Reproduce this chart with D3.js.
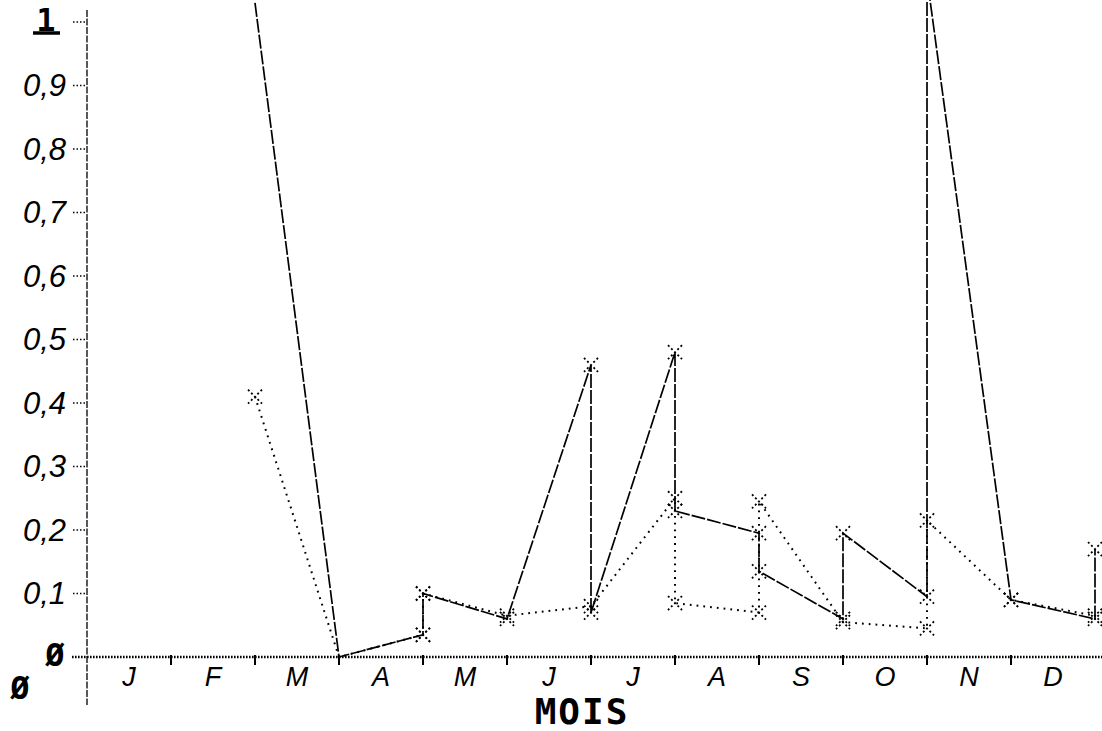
<!DOCTYPE html>
<meta charset="utf-8">
<style>
body { margin: 0; background: #fff; }
svg { display: block; }
</style>
<svg width="1102" height="731"></svg>
<script src="https://d3js.org/d3.v7.min.js"></script>
<script>
var svg = d3.select("svg"),
    width = +svg.attr("width"),
    height = +svg.attr("height");

// month letters, placed between the boundary ticks
var months = ["J", "F", "M", "A", "M", "J", "J", "A", "S", "O", "N", "D"];
var yTicks = [0.1, 0.2, 0.3, 0.4, 0.5, 0.6, 0.7, 0.8, 0.9];
var yTickLabels = ["0,1", "0,2", "0,3", "0,4", "0,5", "0,6", "0,7", "0,8", "0,9"];

// first series (the one with the long strokes), x = month boundary
var seriesAX = [2, 3, 4, 4, 5, 6, 6, 7, 7, 8, 8, 9, 9, 10, 10, 11, 12, 12];
var seriesAY = [1.03, 0, 0.035, 0.1, 0.06, 0.46, 0.07, 0.48, 0.23, 0.195, 0.135, 0.06, 0.195, 0.095, 1.07, 0.09, 0.06, 0.17];

// second series (dotted)
var seriesBX = [2, 3, 4, 4, 5, 6, 7, 7, 8, 8, 9, 10, 10, 11, 12];
var seriesBY = [0.41, 0, 0.035, 0.1, 0.065, 0.08, 0.25, 0.085, 0.07, 0.245, 0.055, 0.045, 0.215, 0.09, 0.065];

var x = d3.scaleLinear().domain([0, 12]).range([87, 1095]);
var y = d3.scaleLinear().domain([0, 1]).range([657, 22]);

svg.append("rect").attr("width", width).attr("height", height).attr("fill", "#fff");

//axes
svg.append("line")
    .attr("x1", x(0)).attr("x2", x(0))
    .attr("y1", 10).attr("y2", 705)
    .attr("stroke", "#000").attr("stroke-width", 1.3)
    .attr("stroke-dasharray", "7,1.5");

svg.append("line")
    .attr("x1", 72).attr("x2", 1102)
    .attr("y1", y(0)).attr("y2", y(0))
    .attr("stroke", "#000").attr("stroke-width", 2.6)
    .attr("stroke-dasharray", "1.6,1.4");

// y ticks: little dotted stubs left of the axis
svg.append("g").selectAll("line")
    .data(yTicks.concat([1]))
    .enter().append("line")
    .attr("x1", 73).attr("x2", x(0))
    .attr("y1", function(d) { return y(d); })
    .attr("y2", function(d) { return y(d); })
    .attr("stroke", "#000").attr("stroke-width", 1.6)
    .attr("stroke-dasharray", "1.5,2");

svg.append("g").selectAll("text")
    .data(yTicks)
    .enter().append("text")
    .attr("x", 66)
    .attr("y", function(d) { return y(d); })
    .attr("dy", "0.35em")
    .attr("text-anchor", "end")
    .style("font-family", "Liberation Sans")
    .style("font-style", "italic")
    .style("font-size", "31px")
    .text(function(d, i) { return yTickLabels[i]; });

// the "1" at the top
svg.append("text")
    .attr("x", 46).attr("y", y(1) - 2).attr("dy", "0.35em")
    .attr("text-anchor", "middle")
    .style("font-family", "DejaVu Sans Mono")
    .style("font-weight", "bold")
    .style("font-size", "32px")
    .text("1");
svg.append("line")
    .attr("x1", 33).attr("x2", 60)
    .attr("y1", y(1) + 11).attr("y2", y(1) + 11)
    .attr("stroke", "#000").attr("stroke-width", 3.5);

// the two zero glyphs
svg.append("text")
    .attr("x", 55).attr("y", y(0) - 2).attr("dy", "0.35em")
    .attr("text-anchor", "middle")
    .style("font-family", "DejaVu Sans Mono").style("font-weight", "bold")
    .style("font-size", "32px")
    .text("Ø");
svg.append("text")
    .attr("x", 20).attr("y", 688).attr("dy", "0.35em")
    .attr("text-anchor", "middle")
    .style("font-family", "DejaVu Sans Mono").style("font-weight", "bold")
    .style("font-size", "32px")
    .text("Ø");

// x ticks at month boundaries
svg.append("g").selectAll("line")
    .data(d3.range(1, 12))
    .enter().append("line")
    .attr("x1", function(d) { return x(d); })
    .attr("x2", function(d) { return x(d); })
    .attr("y1", y(0) - 2).attr("y2", y(0) + 8)
    .attr("stroke", "#000").attr("stroke-width", 2);

svg.append("g").selectAll("text")
    .data(months)
    .enter().append("text")
    .attr("x", function(d, i) { return x(i + 0.5); })
    .attr("y", 677)
    .attr("dy", "0.35em")
    .attr("text-anchor", "middle")
    .style("font-family", "Liberation Sans")
    .style("font-style", "italic")
    .style("font-size", "27px")
    .text(function(d) { return d; });

svg.append("text")
    .attr("x", 582).attr("y", 711).attr("dy", "0.35em")
    .attr("text-anchor", "middle")
    .style("font-family", "DejaVu Sans Mono")
    .style("font-weight", "bold")
    .style("font-size", "36px")
    .style("letter-spacing", "2px")
    .text("MOIS");

//series
var line = d3.line()
    .x(function(d) { return x(d[0]); })
    .y(function(d) { return y(d[1]); });

var ptsA = d3.zip(seriesAX, seriesAY);
var ptsB = d3.zip(seriesBX, seriesBY);

svg.append("path")
    .datum(ptsB)
    .attr("d", line)
    .attr("fill", "none")
    .attr("stroke", "#000").attr("stroke-width", 2)
    .attr("stroke-dasharray", "1.8,5");

svg.append("path")
    .datum(ptsA)
    .attr("d", line)
    .attr("fill", "none")
    .attr("stroke", "#000").attr("stroke-width", 1.7)
    .attr("stroke-dasharray", "14,2");

// dotted X markers on every visible point
var marks = ptsA.concat(ptsB).filter(function(d) { return d[1] > 0 && d[1] <= 1; });
var m = 7;
var mg = svg.append("g").selectAll("g")
    .data(marks)
    .enter().append("g")
    .attr("transform", function(d) { return "translate(" + x(d[0]) + "," + y(d[1]) + ")"; });
mg.append("path")
    .attr("d", "M" + (-m) + "," + (-m) + "L" + m + "," + m + "M" + m + "," + (-m) + "L" + (-m) + "," + m)
    .attr("fill", "none")
    .attr("stroke", "#000").attr("stroke-width", 1.8)
    .attr("stroke-dasharray", "2,2.5");
</script>
